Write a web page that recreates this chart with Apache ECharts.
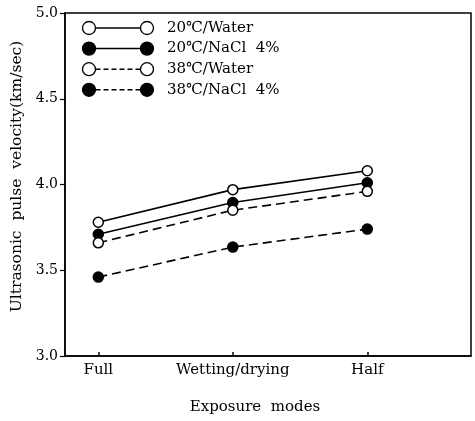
<!DOCTYPE html>
<html>
<head>
<meta charset="utf-8">
<script src="https://cdn.jsdelivr.net/npm/echarts@6/dist/echarts.min.js"></script>
<style>
html,body{margin:0;padding:0;background:#fff;}
#chart{width:475px;height:421px;}
</style>
</head>
<body>
<div id="chart"></div>
<script>
const categories = ['Full', 'Wetting/drying', 'Half'];
const seriesNames = ['20℃/Water', '20℃/NaCl  4%', '38℃/Water', '38℃/NaCl  4%'];
const water20 = [3.78, 3.97, 4.08];
const nacl20 = [3.71, 3.895, 4.01];
const water38 = [3.66, 3.85, 3.96];
const nacl38 = [3.46, 3.635, 3.74];
const yTicks = [3.0, 3.5, 4.0, 4.5, 5.0];

const FONT = 'DejaVu Serif';
const seriesData = [water20, nacl20, water38, nacl38];
const filled = [false, true, false, true];
const dashed = [false, false, true, true];

const chart = echarts.init(document.getElementById('chart'));

const series = seriesData.map((vals, i) => ({
  name: seriesNames[i],
  type: 'line',
  data: vals.map((v, j) => [j, v]),
  symbol: 'circle',
  symbolSize: 10,
  showSymbol: true,
  lineStyle: { color: '#000', width: 1.6, type: dashed[i] ? [9, 5] : 'solid' },
  itemStyle: { color: filled[i] ? '#000' : '#fff', borderColor: '#000', borderWidth: 1.5 },
  z: 3,
  animation: false
}));

// legend drawn as graphic group (two circles joined by line + text)
const legendEls = [];
seriesNames.forEach((name, i) => {
  const cy = 28 + i * 20.6;
  const r = 6.5;
  const x1 = 89, x2 = 147;
  legendEls.push({
    type: 'line',
    shape: { x1: x1 + r, y1: cy, x2: x2 - r, y2: cy },
    style: { stroke: '#000', lineWidth: 1.5, lineDash: dashed[i] ? [5, 3] : null }
  });
  [x1, x2].forEach(cx => legendEls.push({
    type: 'circle',
    shape: { cx: cx, cy: cy, r: r },
    style: { fill: filled[i] ? '#000' : '#fff', stroke: '#000', lineWidth: 1.3 }
  }));
  legendEls.push({
    type: 'text',
    x: 167, y: cy,
    style: { text: name, fill: '#000', font: '15px "' + FONT + '"', textVerticalAlign: 'middle' }
  });
});

chart.setOption({
  animation: false,
  backgroundColor: '#fff',
  grid: { left: 65, right: 4, top: 13, bottom: 65, show: true, borderColor: '#000', borderWidth: 1.5, backgroundColor: 'transparent' },
  xAxis: {
    type: 'value',
    min: -0.2476,
    max: 2.771,
    name: 'Exposure  modes',
    nameLocation: 'middle',
    nameGap: 44,
    nameTextStyle: { fontFamily: FONT, fontSize: 15, color: '#000', verticalAlign: 'top', padding: [0, 26, 0, 0] },
    axisLine: { show: true, onZero: false, lineStyle: { color: '#000', width: 1.5 } },
    axisTick: { show: true, inside: true, length: 4, customValues: [0, 1, 2], lineStyle: { color: '#000', width: 1.5 } },
    axisLabel: {
      customValues: [0, 1, 2],
      margin: 7,
      fontFamily: FONT, fontSize: 15, color: '#000',
      formatter: v => categories[Math.round(v)] || ''
    },
    splitLine: { show: false }
  },
  yAxis: {
    type: 'value',
    min: yTicks[0],
    max: yTicks[yTicks.length - 1],
    interval: 0.5,
    name: 'Ultrasonic  pulse  velocity(km/sec)',
    nameLocation: 'middle',
    nameGap: 37,
    nameTextStyle: { fontFamily: FONT, fontSize: 15.5, color: '#000', padding: [0, 0, 0, 16] },
    axisLine: { show: true, onZero: false, lineStyle: { color: '#000', width: 1.5 } },
    axisTick: { show: true, inside: false, length: 5, lineStyle: { color: '#000', width: 1.2 } },
    axisLabel: { margin: 7, fontFamily: FONT, fontSize: 14, color: '#000', formatter: v => v.toFixed(1) },
    splitLine: { show: false }
  },
  graphic: legendEls,
  series: series
});
</script>
</body>
</html>
